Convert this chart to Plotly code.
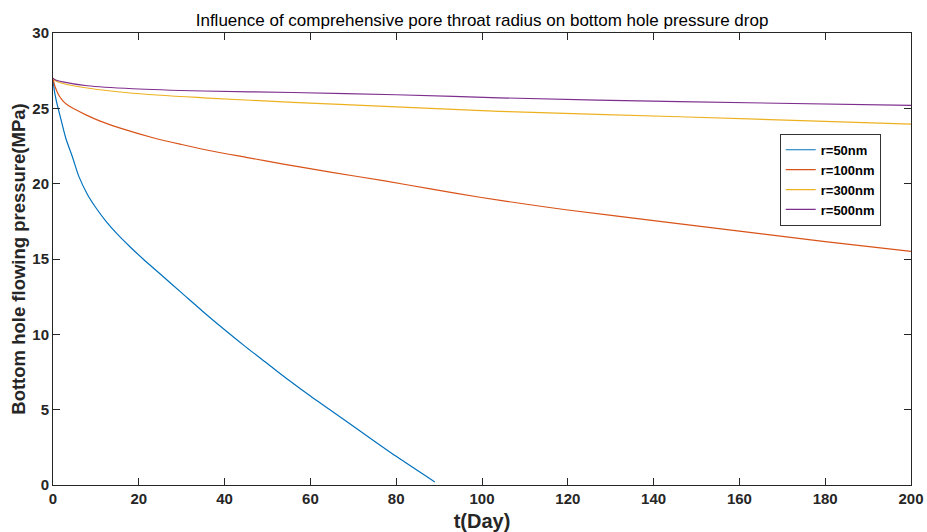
import plotly.graph_objects as go

# Bottom hole flowing pressure (MPa) vs time (days) for several pore throat radii
t_50 = [0, 0.3, 0.7, 1.2, 2, 3, 4.5, 6, 8, 10, 12.5, 15, 18, 21, 25, 30, 35, 40, 45, 50, 55, 60, 70, 80, 89]
p_50 = [27, 26.2, 25.6, 25.0, 24.1, 23.0, 21.8, 20.5, 19.3, 18.4, 17.45, 16.65, 15.8, 15.0, 14.0, 12.75, 11.5, 10.3, 9.15, 8.05, 6.95, 5.9, 3.9, 1.9, 0.2]

t_100 = [0, 0.3, 0.8, 1.5, 2.3, 3.5, 5, 7.8, 11, 15.5, 23.3, 30, 37.3, 45, 53.7, 65, 77, 88, 99.5, 110, 120, 140, 160, 180, 200]
p_100 = [27, 26.6, 26.2, 25.8, 25.5, 25.2, 24.95, 24.55, 24.15, 23.7, 23.05, 22.6, 22.15, 21.75, 21.3, 20.75, 20.2, 19.65, 19.1, 18.65, 18.25, 17.55, 16.85, 16.15, 15.5]

t_300 = [0, 0.5, 2.3, 8, 18.6, 35, 55.9, 80, 104, 146, 200]
p_300 = [27, 26.85, 26.65, 26.35, 26.0, 25.7, 25.4, 25.1, 24.8, 24.44, 23.95]

t_500 = [0, 0.5, 2.3, 8, 18.6, 35, 55.9, 80, 104, 146, 200]
p_500 = [27, 26.9, 26.76, 26.5, 26.3, 26.15, 26.05, 25.9, 25.7, 25.44, 25.2]

series_names = ["r=50nm", "r=100nm", "r=300nm", "r=500nm"]
series_colors = ["#0072BD", "#D95319", "#EDB120", "#7E2F8E"]

x_ticks = [0, 20, 40, 60, 80, 100, 120, 140, 160, 180, 200]
y_ticks = [0, 5, 10, 15, 20, 25, 30]

FONT = "Arial, 'Liberation Sans', sans-serif"
INK = "#262626"

fig = go.Figure()
for (tx, py), name, color in zip(
    [(t_50, p_50), (t_100, p_100), (t_300, p_300), (t_500, p_500)],
    series_names, series_colors,
):
    fig.add_trace(go.Scatter(
        x=tx, y=py, mode="lines", name=name,
        line=dict(color=color, width=1.2, shape="spline", smoothing=0.8),
    ))

axis_common = dict(
    showline=True, linecolor=INK, linewidth=1, mirror="ticks",
    ticks="inside", ticklen=7, tickcolor=INK, tickwidth=1,
    showgrid=False, zeroline=False, automargin=False,
    tickfont=dict(family=FONT, size=15, color=INK, weight="bold"),
)

fig.update_layout(
    width=927, height=532,
    margin=dict(l=53, r=16, t=33, b=47, autoexpand=False),
    paper_bgcolor="white", plot_bgcolor="white",
    title=dict(
        text="Influence of comprehensive pore throat radius on bottom hole pressure drop",
        font=dict(family=FONT, size=17, color="black"),
        x=0.52, xanchor="center", y=0.962, yanchor="middle",
    ),
    xaxis=dict(
        range=[0, 200], tickvals=x_ticks,
        title=dict(text="t(Day)", font=dict(family=FONT, size=20, color=INK, weight="bold"), standoff=10),
        **axis_common,
    ),
    yaxis=dict(
        range=[0, 30], tickvals=y_ticks,
        title=dict(text="Bottom hole flowing pressure(MPa)", font=dict(family=FONT, size=18.5, color=INK, weight="bold"), standoff=1),
        **axis_common,
    ),
    legend=dict(
        x=0.847, y=0.777, xanchor="left", yanchor="top",
        bgcolor="white", bordercolor="#333333", borderwidth=1,
        font=dict(family=FONT, size=13, color="black", weight="bold"),
        tracegroupgap=0, itemwidth=30,
    ),
    showlegend=True,
)

fig.write_html("out.html")
